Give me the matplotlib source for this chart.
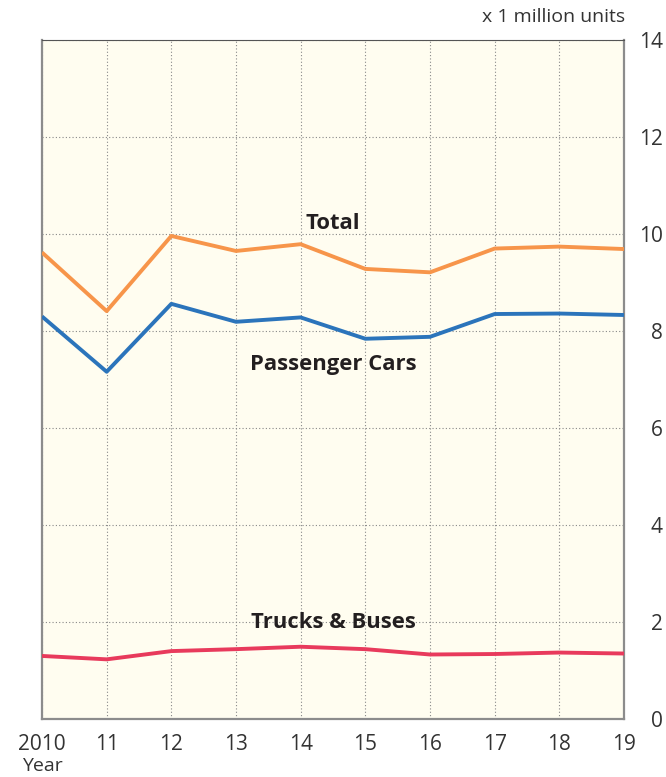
import matplotlib.pyplot as plt
import numpy as np

years = [2010, 2011, 2012, 2013, 2014, 2015, 2016, 2017, 2018, 2019]
year_labels = ['2010', '11', '12', '13', '14', '15', '16', '17', '18', '19']
total = [9.62, 8.41, 9.96, 9.65, 9.79, 9.28, 9.21, 9.70, 9.74, 9.69]
passenger_cars = [8.30, 7.16, 8.56, 8.19, 8.28, 7.84, 7.88, 8.35, 8.36, 8.33]
trucks_buses = [1.30, 1.23, 1.40, 1.44, 1.49, 1.44, 1.33, 1.34, 1.37, 1.35]

plt.rcParams['font.family'] = ['Open Sans', 'DejaVu Sans']

fig = plt.figure(figsize=(6.66, 7.77), dpi=100)
ax = fig.add_axes([42/666, 58/777, 582/666, 679/777])
ax.set_facecolor('#fffdf0')

ax.plot(years, total, color='#f7954a', lw=2.8, solid_capstyle='butt', zorder=3)
ax.plot(years, passenger_cars, color='#2b74bb', lw=2.8, solid_capstyle='butt', zorder=3)
ax.plot(years, trucks_buses, color='#e83a5c', lw=2.8, solid_capstyle='butt', zorder=3)

ax.set_xlim(2010, 2019)
ax.set_ylim(0, 14)
ax.set_xticks(years)
ax.set_xticklabels(year_labels)
ax.set_yticks(range(0, 15, 2))

ax.grid(True, color='#888888', linestyle=(0, (1, 2)), lw=0.8, zorder=1)

ax.yaxis.tick_right()
ax.tick_params(axis='both', length=0, labelsize=15, colors='#333333')
ax.tick_params(axis='y', pad=28)
ax.tick_params(axis='x', pad=11)
for lab in ax.get_yticklabels():
    lab.set_horizontalalignment('right')

for side in ['left', 'bottom', 'right']:
    ax.spines[side].set_color('#8c8c8c')
    ax.spines[side].set_linewidth(1.6)
ax.spines['top'].set_color('#555555')
ax.spines['top'].set_linewidth(0.8)

lbl = dict(ha='center', va='center', fontsize=15.8, fontweight='bold', color='#231f20', zorder=4)
ax.text(2014.5, 10.21, 'Total', **lbl)
ax.text(2014.5, 7.30, 'Passenger Cars', **lbl)
ax.text(2014.5, 2.0, 'Trucks & Buses', **lbl)

fig.text(625/666, 1 - 17/777, 'x 1 million units', ha='right', va='center', fontsize=14, color='#333333')
fig.text(42/666, 1 - 766/777, 'Year', ha='center', va='center', fontsize=14, color='#333333')

fig.savefig('out.png', dpi=100)
